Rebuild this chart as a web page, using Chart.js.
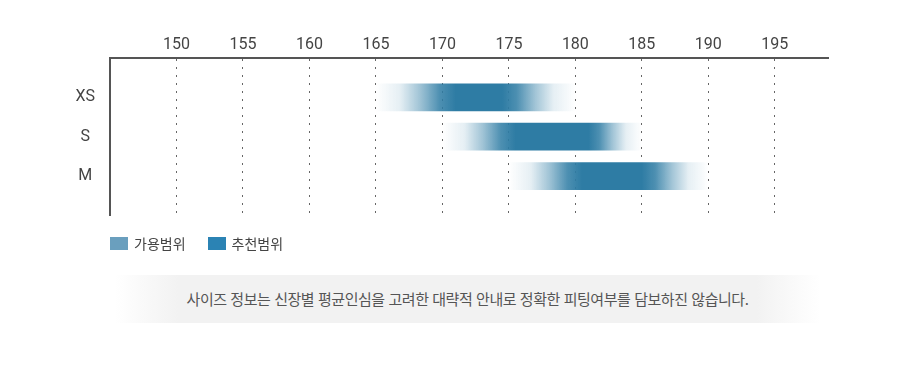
<!DOCTYPE html>
<html lang="ko">
<head>
<meta charset="utf-8">
<title>사이즈 가이드</title>
<script src="https://cdn.jsdelivr.net/npm/chart.js@4"></script>
<style>
    html, body {
        margin: 0;
        padding: 0;
        background: #fff;
        width: 920px;
        height: 383px;
        overflow: hidden;
        font-family: Roboto, "Noto Sans CJK KR", sans-serif;
    }
    .chart-box {
        position: absolute;
        left: 0;
        top: 0;
        width: 920px;
        height: 240px;
    }
    .legend {
        position: absolute;
        left: 110px;
        top: 235px;
        display: flex;
        font-family: "Noto Sans CJK KR", sans-serif;
        font-size: 14px;
        color: #444;
    }
    .legend-item {
        display: flex;
        align-items: center;
        margin-right: 22px;
        height: 16px;
    }
    .legend-swatch {
        width: 18px;
        height: 13px;
        margin-right: 6px;
    }
    .notice {
        position: absolute;
        left: 115px;
        top: 275px;
        width: 705px;
        height: 48px;
        line-height: 48px;
        text-align: center;
        background: linear-gradient(to right, #fff 0%, #f2f2f2 9%, #f2f2f2 91%, #fff 100%);
        font-family: "Noto Sans CJK KR", sans-serif;
        font-size: 15px;
        letter-spacing: -0.45px;
        color: #555;
    }
</style>
</head>
<body>
<div class="chart-box"><canvas id="sizeChart"></canvas></div>
<div class="legend" id="legend"></div>
<div class="notice">사이즈 정보는 신장별 평균인심을 고려한 대략적 안내로 정확한 피팅여부를 담보하진 않습니다.</div>

<script>
// 사이즈별 키 범위 (cm)
const sizeLabels = ['', 'XS', 'S', 'M', ''];
const availableMin = [null, 165, 170, 175, null];
const availableMax = [null, 180, 185, 190, null];
const recommendedMin = [null, 171, 175.5, 180.5, null];
const recommendedMax = [null, 174.5, 181, 185, null];
const tickValues = [150, 155, 160, 165, 170, 175, 180, 185, 190, 195];
const legendLabels = ['가용범위', '추천범위'];
const legendColors = ['#6a9fbe', '#2b83b4'];

const barRgb = '46, 124, 164';

// 범례
const legendEl = document.getElementById('legend');
legendLabels.forEach((label, i) => {
    legendEl.innerHTML += `
        <div class="legend-item">
            <span class="legend-swatch" style="background:${legendColors[i]}"></span>
            <span>${label}</span>
        </div>`;
});

// 가용범위 양 끝은 흐리게, 추천범위는 진하게
function barGradient(context) {
    const chart = context.chart;
    const i = context.dataIndex;
    const x = chart.scales.x;
    if (!chart.chartArea || !x || availableMin[i] == null) {
        return `rgb(${barRgb})`;
    }
    const x0 = x.getPixelForValue(availableMin[i]);
    const x1 = x.getPixelForValue(availableMax[i]);
    const a = (x.getPixelForValue(recommendedMin[i]) - x0) / (x1 - x0);
    const b = (x.getPixelForValue(recommendedMax[i]) - x0) / (x1 - x0);
    const g = chart.ctx.createLinearGradient(x0, 0, x1, 0);
    // 끝으로 갈수록 천천히 사라지게
    const fade = [[0, 0], [0.3, 0.12], [0.55, 0.45], [0.8, 0.85], [1, 1]];
    fade.forEach(([t, alpha]) => {
        g.addColorStop(a * t, `rgba(${barRgb}, ${alpha})`);
    });
    fade.slice().reverse().forEach(([t, alpha]) => {
        g.addColorStop(b + (1 - b) * (1 - t), `rgba(${barRgb}, ${alpha})`);
    });
    return g;
}

Chart.defaults.font.family = 'Roboto, "Noto Sans CJK KR", sans-serif';

new Chart(document.getElementById('sizeChart'), {
    type: 'bar',
    data: {
        labels: sizeLabels,
        datasets: [{
            label: '가용범위',
            data: sizeLabels.map((s, i) => availableMin[i] == null ? null : [availableMin[i], availableMax[i]]),
            backgroundColor: barGradient,
            borderWidth: 0,
            borderSkipped: false,
            barThickness: 27
        }]
    },
    options: {
        indexAxis: 'y',
        responsive: true,
        maintainAspectRatio: false,
        animation: false,
        layout: {
            padding: { top: 0, right: 92, bottom: 6, left: 0 }
        },
        plugins: {
            legend: { display: false },
            tooltip: { enabled: false }
        },
        scales: {
            x: {
                type: 'linear',
                position: 'top',
                min: 145,
                max: 199,
                afterBuildTicks: (scale) => {
                    scale.ticks = tickValues.map(v => ({ value: v }));
                },
                afterFit: (scale) => {
                    scale.height = 58;
                },
                ticks: {
                    color: '#444',
                    font: { size: 16 },
                    padding: 3
                },
                grid: {
                    color: '#666',
                    lineWidth: 1,
                    drawTicks: false
                },
                border: {
                    color: '#555',
                    width: 2,
                    dash: [2, 6]
                }
            },
            y: {
                type: 'category',
                offset: false,
                afterFit: (scale) => {
                    scale.width = 110;
                },
                ticks: {
                    color: '#444',
                    font: { size: 16 },
                    crossAlign: 'center',
                    padding: 15
                },
                grid: {
                    display: false,
                    drawTicks: false
                },
                border: {
                    color: '#555',
                    width: 2
                }
            }
        }
    }
});
</script>
</body>
</html>
